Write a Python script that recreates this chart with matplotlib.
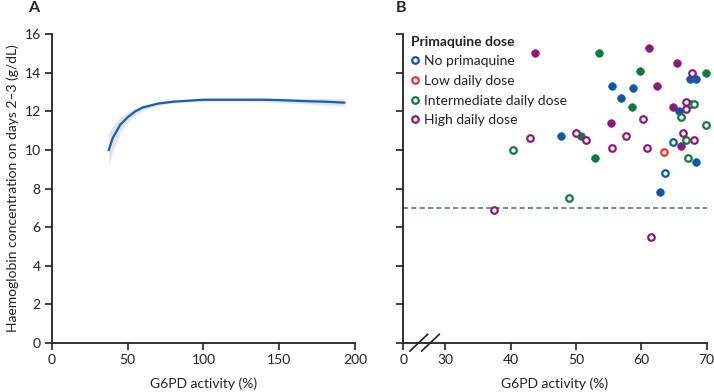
import matplotlib
matplotlib.use("Agg")
import matplotlib.pyplot as plt
from matplotlib.lines import Line2D

plt.rcParams['font.family'] = ['Lato', 'DejaVu Sans']

# ---------------- Panel A data ----------------
curve_x = [37.5, 40, 45, 50, 55, 60, 70, 80, 90, 100, 110, 120, 130, 140, 150, 160, 170, 180, 193]
curve_y = [10.0, 10.6, 11.3, 11.7, 12.0, 12.2, 12.4, 12.5, 12.55, 12.6, 12.6, 12.6, 12.6, 12.6, 12.58, 12.55, 12.52, 12.5, 12.45]
band_x = [37.5, 40, 45, 50, 55, 60, 70, 80, 100, 120, 140, 160, 180, 193]
band_lo = [9.1, 9.9, 10.9, 11.45, 11.8, 12.05, 12.3, 12.42, 12.52, 12.52, 12.5, 12.42, 12.33, 12.28]
band_hi = [10.9, 11.2, 11.7, 11.95, 12.15, 12.35, 12.5, 12.6, 12.68, 12.68, 12.7, 12.68, 12.67, 12.65]

# ---------------- Panel B data ----------------
none_filled_x = [67.4, 68.4, 55.5, 58.8, 56.9, 65.7, 47.7, 68.4, 62.8]
none_filled_y = [13.7, 13.7, 13.3, 13.2, 12.7, 12.0, 10.7, 9.4, 7.8]
none_open_x = [64.9, 63.6]
none_open_y = [10.4, 8.8]
low_open_x = [63.4]
low_open_y = [9.9]
inter_filled_x = [53.6, 59.8, 69.9, 58.5, 50.8, 52.9]
inter_filled_y = [15.0, 14.1, 14.0, 12.2, 10.7, 9.6]
inter_open_x = [67.5, 68.0, 66.1, 69.9, 66.8, 40.4, 67.2, 49.0]
inter_open_y = [12.4, 12.4, 11.7, 11.3, 10.5, 10.0, 9.6, 7.5]
high_filled_x = [43.7, 61.2, 65.5, 62.4, 64.9, 55.3, 66.1]
high_filled_y = [15.0, 15.3, 14.5, 13.3, 12.2, 11.4, 10.2]
high_open_x = [67.8, 66.8, 66.8, 60.2, 66.4, 68.0, 43.0, 50.0, 51.5, 57.7, 55.5, 60.9, 37.4, 61.5]
high_open_y = [14.0, 12.5, 12.1, 11.6, 10.9, 10.5, 10.6, 10.9, 10.5, 10.7, 10.1, 10.1, 6.9, 5.5]
threshold = 7

legend_labels = ["No primaquine", "Low daily dose", "Intermediate daily dose", "High daily dose"]

x_ticks_a = [0, 50, 100, 150, 200]
y_ticks = [0, 2, 4, 6, 8, 10, 12, 14, 16]
x_ticks_b = [23.6, 30, 40, 50, 60, 70]
x_ticklabels_b = ["0", "30", "40", "50", "60", "70"]

C_BLUE = "#0d57a5"
C_RED = "#e8352c"
C_GREEN = "#107a3e"
C_PURPLE = "#8a1b7d"
TXT = "#222222"
FS = 10

fig = plt.figure(figsize=(7.14, 3.92), dpi=100)
axA = fig.add_axes([0.0728, 0.125, 0.4244, 0.788])
axB = fig.add_axes([0.5649, 0.125, 0.4249, 0.788])

for ax in (axA, axB):
    for s in ("top", "right"):
        ax.spines[s].set_visible(False)
    for s in ("left", "bottom"):
        ax.spines[s].set_linewidth(1.3)
        ax.spines[s].set_color(TXT)
    ax.tick_params(direction="out", length=5, width=1.2, labelsize=FS, colors=TXT, pad=3)
    ax.set_ylim(0, 16)
    ax.set_yticks(y_ticks)

# Panel A
axA.fill_between(band_x, band_lo, band_hi, color="#dfe4ec", lw=0)
axA.plot(curve_x, curve_y, color="#1c5ea8", lw=1.6)
axA.set_xlim(0, 200)
axA.set_xticks(x_ticks_a)
axA.set_xlabel("G6PD activity (%)", fontsize=FS, color=TXT, labelpad=8)
axA.set_ylabel("Haemoglobin concentration on days 2–3 (g/dL)", fontsize=FS, color=TXT, labelpad=4)
fig.text(0.047, 0.997, "A", fontsize=11.5, fontweight="bold", va="top", ha="center", color=TXT)

# Panel B
axB.set_xlim(23.6, 70)
axB.set_xticks(x_ticks_b)
axB.set_xticklabels(x_ticklabels_b)
axB.set_yticklabels([])
axB.set_xlabel("G6PD activity (%)", fontsize=FS, color=TXT, labelpad=8)
fig.text(0.561, 0.997, "B", fontsize=11.5, fontweight="bold", va="top", ha="center", color=TXT)

axB.axhline(threshold, color="#5d7884", lw=1.2, ls=(0, (3, 2)), zorder=1)

ms = 5.5
mew = 1.6
def filled(x, y, c):
    axB.plot(x, y, ls="none", marker="o", ms=ms, mfc=c, mec=c, mew=0.5, zorder=3, clip_on=False)
def opened(x, y, c):
    axB.plot(x, y, ls="none", marker="o", ms=ms - 0.8, mfc="white", mec=c, mew=mew, zorder=4, clip_on=False)

filled(none_filled_x, none_filled_y, C_BLUE)
opened(none_open_x, none_open_y, C_BLUE)
opened(low_open_x, low_open_y, C_RED)
filled(inter_filled_x, inter_filled_y, C_GREEN)
opened(inter_open_x, inter_open_y, C_GREEN)
filled(high_filled_x, high_filled_y, C_PURPLE)
opened(high_open_x, high_open_y, C_PURPLE)

handles = [Line2D([], [], ls="none", marker="o", ms=ms - 0.8, mfc="white", mec=c, mew=mew)
           for c in (C_BLUE, C_RED, C_GREEN, C_PURPLE)]
leg = axB.legend(handles, legend_labels, title="Primaquine dose", loc="upper left",
                 bbox_to_anchor=(0.025, 0.995), frameon=False, fontsize=FS,
                 title_fontproperties={"weight": "bold", "size": FS},
                 handlelength=0.6, handletextpad=0.35, labelspacing=0.55, borderaxespad=0.0,
                 alignment="left", borderpad=0.0)
for t in leg.get_texts():
    t.set_color(TXT)
leg.get_title().set_color(TXT)

# Axis break marks
for x0 in (410, 421.7):
    fig.add_artist(Line2D([x0 / 714, (x0 + 17.6) / 714],
                          [1 - 351 / 392, 1 - 334.3 / 392],
                          color=TXT, lw=1.2))

fig.savefig("out.png", dpi=100)
